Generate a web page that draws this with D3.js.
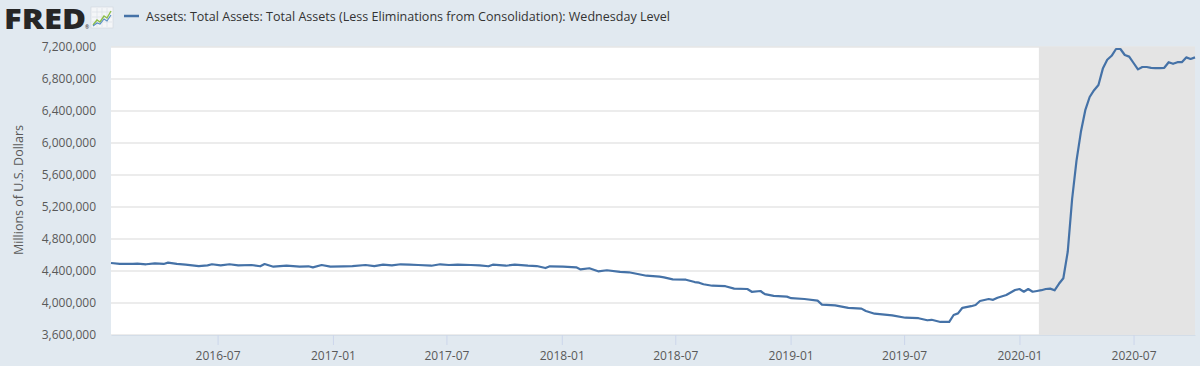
<!DOCTYPE html>
<html>
<head>
<meta charset="utf-8">
<script src="https://cdn.jsdelivr.net/npm/d3@7"></script>
<style>
  html, body { margin: 0; padding: 0; background: #e1e9f0; }
  svg { display: block; }
  text { font-family: "Open Sans", "Noto Sans", sans-serif; }
</style>
</head>
<body>
<svg id="chart" width="1200" height="366"></svg>
<script>
// ---------------- DATA ----------------
const seriesTitle = "Assets: Total Assets: Total Assets (Less Eliminations from Consolidation): Wednesday Level";
const yAxisTitle = "Millions of U.S. Dollars";
const recessionStart = "2020-02-01";
const recessionEnd = "2020-10-07";
const yTickValues = [3600000, 4000000, 4400000, 4800000, 5200000, 5600000, 6000000, 6400000, 6800000, 7200000];
const xTickLabels = ["2016-07", "2017-01", "2017-07", "2018-01", "2018-07", "2019-01", "2019-07", "2020-01", "2020-07"];

const dates = [
  "2016-01-13","2016-01-27","2016-02-17","2016-02-24","2016-03-09","2016-03-23","2016-04-06","2016-04-13","2016-04-27","2016-05-11",
  "2016-06-01","2016-06-15","2016-06-22","2016-07-06","2016-07-20","2016-08-03","2016-08-24","2016-09-07","2016-09-14","2016-09-28",
  "2016-10-19","2016-11-09","2016-11-23","2016-11-30","2016-12-14","2016-12-28","2017-01-18","2017-02-01","2017-02-22","2017-03-08",
  "2017-03-22","2017-04-05","2017-04-19","2017-05-03","2017-05-17","2017-06-07","2017-06-21","2017-07-05","2017-07-19","2017-08-09",
  "2017-08-23","2017-09-06","2017-09-13","2017-10-04","2017-10-18","2017-11-08","2017-11-22","2017-12-06","2017-12-13","2018-01-03",
  "2018-01-24","2018-01-31","2018-02-14","2018-02-28","2018-03-14","2018-04-04","2018-04-18","2018-05-02","2018-05-16","2018-06-06",
  "2018-06-13","2018-06-27","2018-07-18","2018-08-01","2018-08-08","2018-08-15","2018-08-29","2018-09-19","2018-10-03","2018-10-24",
  "2018-10-31","2018-11-14","2018-11-21","2018-12-05","2018-12-26","2019-01-02","2019-01-23","2019-02-13","2019-02-20","2019-03-13",
  "2019-04-03","2019-04-24","2019-05-01","2019-05-15","2019-06-12","2019-07-03","2019-07-24","2019-08-07","2019-08-14","2019-08-28",
  "2019-09-11","2019-09-18","2019-09-25","2019-10-02","2019-10-16","2019-10-23","2019-10-30","2019-11-13","2019-11-20","2019-11-27",
  "2019-12-11","2019-12-25","2020-01-01","2020-01-08","2020-01-15","2020-01-22","2020-01-29","2020-02-05","2020-02-12","2020-02-19",
  "2020-02-26","2020-03-04","2020-03-11","2020-03-18","2020-03-25","2020-04-01","2020-04-08","2020-04-15","2020-04-22","2020-04-29",
  "2020-05-06","2020-05-13","2020-05-20","2020-05-27","2020-06-03","2020-06-10","2020-06-17","2020-06-24","2020-07-01","2020-07-08",
  "2020-07-15","2020-07-22","2020-07-29","2020-08-05","2020-08-12","2020-08-19","2020-08-26","2020-09-02","2020-09-09","2020-09-16",
  "2020-09-23","2020-09-30","2020-10-07"
];
const values = [
  4500000,4488000,4488000,4491000,4484000,4496000,4488000,4504000,4488000,4479000,
  4462000,4471000,4484000,4471000,4484000,4471000,4475000,4459000,4487000,4454000,
  4466000,4454000,4459000,4446000,4475000,4454000,4459000,4462000,4475000,4462000,
  4479000,4471000,4484000,4479000,4475000,4466000,4484000,4475000,4480000,4475000,
  4470000,4459000,4479000,4466000,4479000,4466000,4462000,4437000,4459000,4454000,
  4446000,4420000,4434000,4396000,4409000,4390000,4384000,4362000,4341000,4329000,
  4321000,4296000,4291000,4262000,4254000,4234000,4216000,4210000,4180000,4175000,
  4140000,4150000,4110000,4090000,4080000,4060000,4050000,4030000,3980000,3970000,
  3940000,3930000,3900000,3866000,3846000,3816000,3810000,3784000,3790000,3763000,
  3763000,3850000,3870000,3940000,3960000,3975000,4025000,4050000,4040000,4066000,
  4100000,4162000,4175000,4141000,4175000,4141000,4150000,4160000,4175000,4180000,
  4159000,4240000,4310000,4640000,5300000,5780000,6140000,6410000,6575000,6660000,
  6725000,6930000,7040000,7090000,7175000,7175000,7100000,7080000,7000000,6920000,
  6950000,6950000,6940000,6935000,6935000,6940000,7010000,6990000,7010000,7010000,
  7070000,7050000,7070000
];

// ---------------- CHART ----------------
const parse = d3.timeParse("%Y-%m-%d");
const parseMonth = d3.timeParse("%Y-%m");
const data = dates.map((d, i) => ({ date: parse(d), value: values[i] }));

const svg = d3.select("#chart");
const W = 1200, H = 366;
const plot = { left: 111, right: 1195, top: 47, bottom: 335 };

svg.append("rect").attr("width", W).attr("height", H).attr("fill", "#e1e9f0");

const x = d3.scaleTime()
  .domain(d3.extent(data, d => d.date))
  .range([plot.left, plot.right]);
const y = d3.scaleLinear()
  .domain([yTickValues[0], yTickValues[yTickValues.length - 1]])
  .range([plot.bottom, plot.top]);

// plot background
svg.append("rect")
  .attr("x", plot.left).attr("y", plot.top)
  .attr("width", plot.right - plot.left).attr("height", plot.bottom - plot.top)
  .attr("fill", "#ffffff");

// gridlines
svg.append("g").selectAll("line").data(yTickValues).join("line")
  .attr("x1", plot.left).attr("x2", plot.right)
  .attr("y1", d => y(d)).attr("y2", d => y(d))
  .attr("stroke", "#e6e6e6").attr("stroke-width", 1.5);

// recession shading
svg.append("rect")
  .attr("x", x(parse(recessionStart)))
  .attr("y", plot.top)
  .attr("width", x(parse(recessionEnd)) - x(parse(recessionStart)))
  .attr("height", plot.bottom - plot.top)
  .attr("fill", "#e4e4e4");

// x axis
const xTicks = xTickLabels.map(parseMonth);
const xAxis = d3.axisBottom(x)
  .tickValues(xTicks)
  .tickFormat(d3.timeFormat("%Y-%m"))
  .tickSize(10)
  .tickSizeOuter(0)
  .tickPadding(6);
const gx = svg.append("g").attr("transform", `translate(0,${plot.bottom})`).call(xAxis);
gx.select(".domain").attr("stroke", "#d3dde8").attr("stroke-width", 1);
gx.selectAll(".tick line").attr("stroke", "#ccd6eb");
gx.selectAll(".tick text").attr("fill", "#595959").attr("font-size", 12)
  .attr("font-family", '"Open Sans", sans-serif');

// y axis
const yAxis = d3.axisLeft(y)
  .tickValues(yTickValues)
  .tickFormat(d3.format(","))
  .tickSize(0)
  .tickPadding(15);
const gy = svg.append("g").attr("transform", `translate(${plot.left},0)`).call(yAxis);
gy.select(".domain").remove();
gy.selectAll(".tick text").attr("fill", "#595959").attr("font-size", 12)
  .attr("font-family", '"Open Sans", sans-serif');

// y axis title
svg.append("text")
  .attr("transform", "translate(23,190) rotate(-90)")
  .attr("text-anchor", "middle")
  .attr("font-size", 12)
  .attr("fill", "#595959")
  .attr("textLength", 130)
  .attr("lengthAdjust", "spacingAndGlyphs")
  .text(yAxisTitle);

// line
const line = d3.line().x(d => x(d.date)).y(d => y(d.value));
svg.append("path").datum(data)
  .attr("d", line)
  .attr("fill", "none")
  .attr("stroke", "#4572a7")
  .attr("stroke-width", 2.2)
  .attr("stroke-linejoin", "round");

// header: FRED logo
svg.append("text")
  .attr("x", 4).attr("y", 29)
  .attr("font-size", 28).attr("font-weight", 800)
  .attr("font-family", '"Open Sans", "Liberation Sans", sans-serif')
  .attr("fill", "#262626")
  .attr("textLength", 82).attr("lengthAdjust", "spacingAndGlyphs")
  .text("FRED");
svg.append("text")
  .attr("x", 85).attr("y", 29)
  .attr("font-size", 5).attr("fill", "#262626")
  .text("®");
// small logo icon
const icon = svg.append("g").attr("transform", "translate(91,7)");
icon.append("rect").attr("width", 22).attr("height", 21).attr("fill", "#f4f6f8").attr("stroke", "#d0d6dc").attr("stroke-width", 0.6);
[5, 10, 15].forEach(v => {
  icon.append("line").attr("x1", 1).attr("x2", 21).attr("y1", v).attr("y2", v).attr("stroke", "#d6dde4").attr("stroke-width", 0.6);
  icon.append("line").attr("y1", 1).attr("y2", 20).attr("x1", v + 1).attr("x2", v + 1).attr("stroke", "#d6dde4").attr("stroke-width", 0.6);
});
icon.append("path").attr("d", "M2,18 L6,13 L9,15 L13,9 L16,11 L20,4").attr("fill", "none").attr("stroke", "#8fbf4a").attr("stroke-width", 1.4);
icon.append("path").attr("d", "M2,19 L6,16 L9,17 L13,12 L16,14 L20,8").attr("fill", "none").attr("stroke", "#5b8fc4").attr("stroke-width", 1.2);

// legend
svg.append("line")
  .attr("x1", 124).attr("x2", 139).attr("y1", 16).attr("y2", 16)
  .attr("stroke", "#4572a7").attr("stroke-width", 2.5);
svg.append("text")
  .attr("x", 146).attr("y", 21)
  .attr("font-size", 13)
  .attr("fill", "#333333")
  .attr("textLength", 524).attr("lengthAdjust", "spacingAndGlyphs")
  .text(seriesTitle);
</script>
</body>
</html>
